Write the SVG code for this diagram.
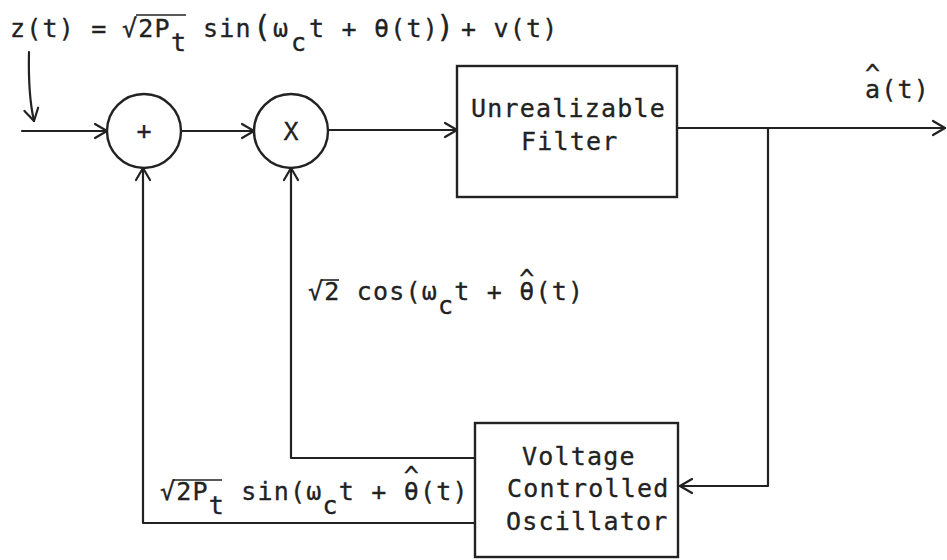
<svg xmlns="http://www.w3.org/2000/svg" width="947" height="560" viewBox="0 0 947 560">
<defs>
<style>
.ln{fill:none;stroke:#222;stroke-width:2.2;stroke-linecap:round;stroke-linejoin:round}
.bx{fill:none;stroke:#222;stroke-width:2.4}
.t{font-family:"DejaVu Sans Mono","Liberation Mono",monospace;font-size:25px;letter-spacing:1.2px;fill:#222;stroke:#222;stroke-width:0.3}
.big{font-size:30px}
.ol{stroke:#222;stroke-width:1.6}
</style>
<marker id="ah" viewBox="-14 -9 16 18" refX="0" refY="0" markerWidth="16" markerHeight="18" markerUnits="userSpaceOnUse" orient="auto">
<path d="M-12,-7 L0,0 L-12,7" fill="none" stroke="#222" stroke-width="2.2" stroke-linecap="round" stroke-linejoin="round"/>
</marker>
</defs>
<rect width="947" height="560" fill="#fff"/>

<g id="connectors">
<path class="ln" d="M29,52 Q28,95 34,121" marker-end="url(#ah)"/>
<path class="ln" d="M22,131 L107,131" marker-end="url(#ah)"/>
<path class="ln" d="M181,131 L254,131" marker-end="url(#ah)"/>
<path class="ln" d="M328,130 L457,130" marker-end="url(#ah)"/>
<path class="ln" d="M677,128 L945,128" marker-end="url(#ah)"/>
<path class="ln" d="M768,128 L768,486 L680,486" marker-end="url(#ah)"/>
<path class="ln" d="M475,458 L291,458 L291,168" marker-end="url(#ah)"/>
<path class="ln" d="M475,523 L143,523 L143,168" marker-end="url(#ah)"/>
</g>

<g id="sum">
<circle class="bx" cx="144" cy="131" r="37"/>
<text class="t" x="144" y="139" text-anchor="middle" style="letter-spacing:0">+</text>
</g>
<g id="mult">
<circle class="bx" cx="291" cy="131" r="37"/>
<text class="t" x="291" y="140" text-anchor="middle" style="letter-spacing:0">X</text>
</g>
<g id="filter">
<rect class="bx" x="457" y="66" width="220" height="131"/>
<text class="t" x="471" y="117">Unrealizable</text>
<text class="t" x="521" y="150">Filter</text>
</g>
<g id="vco">
<rect class="bx" x="475" y="423" width="203" height="134"/>
<text class="t" x="522" y="465">Voltage</text>
<text class="t" x="507" y="497">Controlled</text>
<text class="t" x="506" y="530">Oscillator</text>
</g>

<g id="labels">
<text class="t" x="10" y="37">z(t) =<tspan x="122">√2P</tspan><tspan x="171" dy="14">t</tspan><tspan x="203" dy="-14">sin</tspan><tspan x="253" class="big">(</tspan><tspan x="273">ω</tspan><tspan x="291" dy="14">c</tspan><tspan x="309" dy="-14">t + θ(t)</tspan><tspan x="436" class="big">)</tspan><tspan x="461">+ v(t)</tspan></text>
<line class="ol" x1="136" y1="15" x2="186" y2="15"/>

<text class="t" x="865" y="98">a<tspan dx="-16.25" dy="-16">^</tspan><tspan dy="16">(t)</tspan></text>

<text class="t" x="308" y="300">√2 cos(ω<tspan dy="14">c</tspan><tspan dy="-14">t + θ</tspan><tspan dx="-16.25" dy="-13">^</tspan><tspan dy="13">(t)</tspan></text>
<line class="ol" x1="321" y1="280" x2="339" y2="280"/>

<text class="t" x="160" y="500">√2P<tspan dy="14">t</tspan><tspan dy="-14"> sin(ω</tspan><tspan dy="14">c</tspan><tspan dy="-14">t + θ</tspan><tspan dx="-16.25" dy="-16">^</tspan><tspan dy="16">(t)</tspan></text>
<line class="ol" x1="173" y1="480" x2="222" y2="480"/>
</g>
</svg>
